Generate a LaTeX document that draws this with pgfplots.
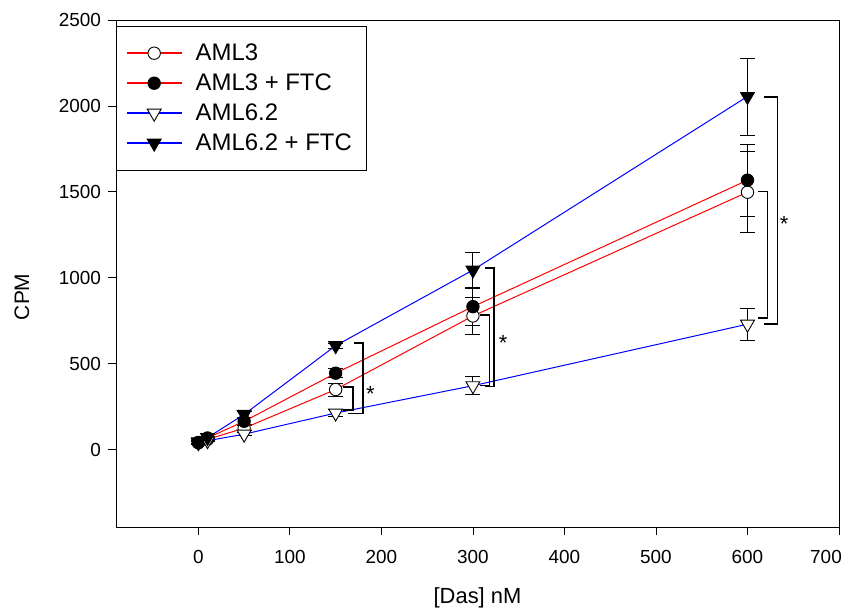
\documentclass[border=0pt]{standalone}
\usepackage{pgfplots}
\pgfplotsset{compat=1.18}
\usepackage{pgfplotstable}
\usepackage{fontspec}
\setmainfont{Liberation Sans}
\setsansfont{Liberation Sans}

\pgfplotstableread{
x y e
0 40 8
10 60 8
50 125 15
150 350 38
300 778 107
600 1498 235
}\amlA
\pgfplotstableread{
x y e
0 42 8
10 68 8
50 165 20
150 445 25
300 832 107
600 1568 210
}\amlAF
\pgfplotstableread{
x y e
0 40 5
10 52 5
50 90 10
150 213 20
300 372 52
600 730 93
}\amlB
\pgfplotstableread{
x y e
0 45 8
10 70 8
50 205 15
150 605 15
300 1045 100
600 2055 224
}\amlBF

\begin{document}
\begin{tikzpicture}
\useasboundingbox (-116bp,-84bp) rectangle (742bp,527bp);
\begin{axis}[
 scale only axis, width=723bp, height=507bp,
 xmin=-90, xmax=700, ymin=-450, ymax=2500,
 xtick={0,100,...,600}, ytick={0,500,...,2500},
 extra x ticks={700},
 extra x tick style={xticklabel style={xshift=-13bp}},
 tick align=outside, xtick pos=bottom, ytick pos=left,
 major tick length=7.5bp,
 tick style={black, line width=0.8bp},
 axis line style={black, line width=0.8bp},
 ticklabel style={font=\fontsize{19}{22}\selectfont},
 xticklabel style={yshift=-12bp},
 yticklabel style={xshift=-4bp},
 /pgf/number format/assume math mode=true,
 scaled ticks=false,
 /pgf/number format/set thousands separator={},
 xlabel={[Das] nM}, ylabel={CPM},
 every axis x label/.style={at={(axis description cs:0.5,0)}, anchor=center, yshift=-71bp, font=\fontsize{22}{26}\selectfont},
 every axis y label/.style={at={(axis description cs:0,0.454)}, xshift=-94bp, anchor=center, rotate=90, font=\fontsize{21}{25}\selectfont},
 legend style={at={(0,1)}, anchor=north west, xshift=0.5bp, yshift=-6bp,
   font=\fontsize{24}{28}\selectfont,
   inner xsep=10bp, inner ysep=17bp, row sep=10bp, column sep=10bp,
   nodes={inner xsep=4bp, inner ysep=0bp, text height=17bp, text depth=3bp},
   cells={anchor=west}},
 redleg/.style={legend image code/.code={%
   \fill[red] (0bp,-0.55bp) rectangle (54bp,0.55bp);
   \path[draw=none, mark repeat=2, mark phase=2] plot coordinates {(0bp,0bp) (27bp,0bp) (54bp,0bp)};}},
 blueleg/.style={legend image code/.code={%
   \fill[blue] (0bp,-0.55bp) rectangle (54bp,0.55bp);
   \path[draw=none, mark repeat=2, mark phase=2] plot coordinates {(0bp,0bp) (27bp,0bp) (54bp,0bp)};}},
 clip=false,
 every axis plot/.append style={line width=1bp},
 errs/.style={draw=none, mark=none, forget plot,
   error bars/.cd, y dir=both, y explicit,
   error bar style={draw=black, solid, line width=0.9bp},
   error mark options={rotate=90, draw=black, mark size=7.5bp, line width=0.9bp}},
]
% error bars (drawn beneath the symbols)
\addplot[errs] table[x=x,y=y,y error=e] {\amlA};
\addplot[errs] table[x=x,y=y,y error=e] {\amlAF};
\addplot[errs] table[x=x,y=y,y error=e] {\amlB};
\addplot[errs] table[x=x,y=y,y error=e] {\amlBF};
% lines and symbols
\addplot[red, mark=*, mark size=6.2bp, mark options={draw=black, fill=white, line width=0.9bp}, redleg] table[x=x,y=y] {\amlA};
\addlegendentry{AML3}
\addplot[red, mark=*, mark size=6.2bp, mark options={draw=black, fill=black, line width=0.9bp}, redleg] table[x=x,y=y] {\amlAF};
\addlegendentry{AML3 + FTC}
\addplot[blue, mark=triangle*, mark size=8bp, mark options={draw=black, fill=white, rotate=180, line width=0.9bp}, blueleg] table[x=x,y=y] {\amlB};
\addlegendentry{AML6.2}
\addplot[blue, mark=triangle*, mark size=8bp, mark options={draw=black, fill=black, rotate=180, line width=0.9bp}, blueleg] table[x=x,y=y] {\amlBF};
\addlegendentry{AML6.2 + FTC\hspace{9bp}}

% significance brackets
\draw[black, line width=1.5bp] (axis cs:158,366) -- (axis cs:169,366) -- (axis cs:169,231) -- (axis cs:158,231);
\draw[black, line width=1.5bp] (axis cs:170,620) -- (axis cs:180,620) -- (axis cs:180,210) -- (axis cs:163,210);
\draw[black, line width=1.5bp] (axis cs:308,783) -- (axis cs:318,783) -- (axis cs:318,374) -- (axis cs:308,374);
\draw[black, line width=1.5bp] (axis cs:313,1058) -- (axis cs:323,1058) -- (axis cs:323,368) -- (axis cs:313,368);
\draw[black, line width=1.5bp] (axis cs:612,1503) -- (axis cs:622,1503) -- (axis cs:622,766) -- (axis cs:612,766);
\draw[black, line width=1.5bp] (axis cs:618,2053) -- (axis cs:633,2053) -- (axis cs:633,731) -- (axis cs:618,731);
\node[font=\fontsize{22}{26}\selectfont, inner sep=0pt] at (axis cs:188,325) {*};
\node[font=\fontsize{22}{26}\selectfont, inner sep=0pt] at (axis cs:333,623) {*};
\node[font=\fontsize{22}{26}\selectfont, inner sep=0pt] at (axis cs:640,1313) {*};
\end{axis}
\end{tikzpicture}
\end{document}
